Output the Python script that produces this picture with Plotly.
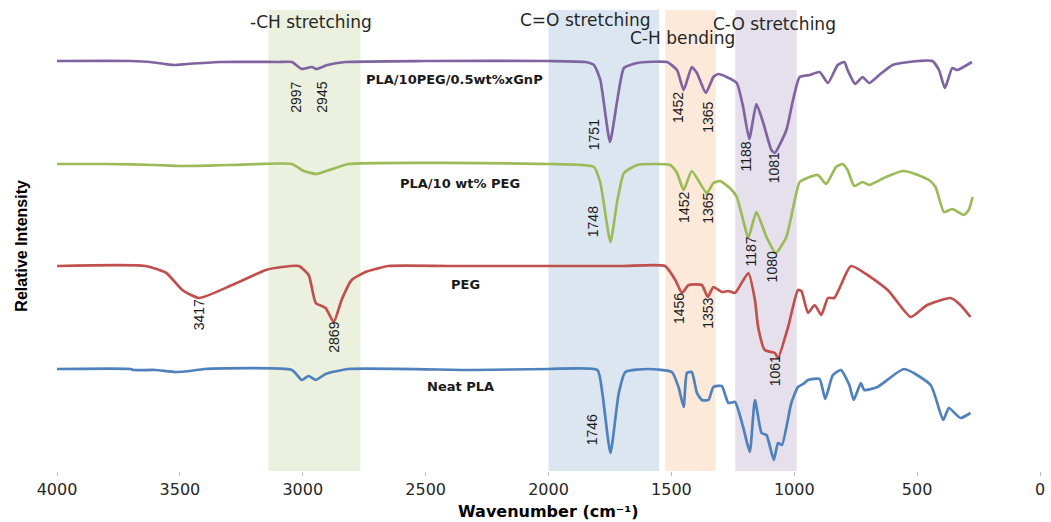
import plotly.graph_objects as go

# ---------------- data (wavenumber cm-1, relative intensity a.u.) ----------------
gnp_wn = [4000, 3700, 3620, 3560, 3520, 3470, 3340, 3100, 3044, 3004, 2963, 2943, 2900, 2826, 2500, 2000,
          1850, 1815, 1789, 1750, 1720, 1693, 1639, 1518, 1477, 1450, 1417, 1396, 1360, 1329, 1309, 1275,
          1234, 1208, 1183, 1154, 1126, 1093, 1079, 1032, 1005, 978, 937, 897, 863, 823, 796, 783, 752,
          722, 695, 654, 600, 533, 438, 411, 387, 357, 337, 277]
gnp_i = [41.0, 41.0, 40.9, 40.7, 40.6, 40.7, 40.9, 40.9, 40.9, 40.2, 40.4, 40.2, 40.6, 40.9, 41.0, 41.0,
         40.9, 40.6, 39.1, 32.9, 37.1, 40.3, 40.8, 40.9, 40.1, 38.1, 40.4, 39.8, 37.8, 39.4, 39.7, 39.4,
         38.8, 36.4, 33.2, 36.7, 34.8, 32.1, 31.8, 34.1, 37.1, 39.4, 39.6, 39.9, 38.8, 40.6, 40.9, 40.1, 38.7,
         39.4, 38.8, 39.6, 40.6, 40.9, 41.0, 40.1, 38.3, 40.3, 40.1, 40.9]

peg10_wn = [4000, 3800, 3600, 3500, 3300, 3044, 2996, 2943, 2880, 2814, 2000, 1815, 1789, 1748, 1720, 1693,
            1639, 1505, 1477, 1450, 1417, 1356, 1329, 1302, 1262, 1234, 1208, 1187, 1154, 1113, 1075, 1032,
            998, 978, 937, 904, 870, 830, 803, 783, 756, 722, 695, 627, 560, 519, 452, 425, 391, 357, 310,
            290, 274]
peg10_i = [30.7, 30.7, 30.6, 30.5, 30.6, 30.7, 30.0, 29.7, 30.2, 30.7, 30.7, 30.4, 28.8, 22.9, 27.0, 29.8,
           30.6, 30.6, 29.8, 28.1, 30.0, 27.8, 28.8, 29.0, 28.3, 27.4, 25.1, 23.3, 25.9, 23.4, 21.8, 23.4,
           27.1, 28.9, 29.4, 29.6, 28.7, 30.4, 30.7, 30.1, 28.5, 28.9, 28.6, 29.4, 30.0, 29.8, 29.1, 28.4,
           25.9, 26.2, 25.6, 26.1, 27.4]

peg_wn = [4000, 3640, 3555, 3490, 3421, 3287, 3150, 3085, 3016, 2976, 2947, 2907, 2874, 2842, 2801, 2745,
          2704, 2652, 2400, 2000, 1700, 1526, 1484, 1457, 1430, 1376, 1352, 1329, 1295, 1268, 1241, 1187,
          1160, 1147, 1120, 1079, 1066, 1025, 985, 971, 944, 917, 890, 863, 837, 810, 769, 620, 526, 459,
          364, 324, 283]
peg_i = [20.5, 20.5, 19.8, 18.1, 17.3, 18.6, 20.1, 20.4, 20.5, 19.6, 16.8, 16.3, 14.9, 17.1, 19.1, 19.9,
         20.2, 20.5, 20.5, 20.5, 20.5, 20.5, 19.1, 17.8, 18.6, 18.6, 17.4, 18.4, 17.9, 18.0, 17.8, 19.8,
         17.1, 14.4, 12.1, 11.8, 11.3, 14.4, 18.1, 18.0, 15.8, 16.6, 15.6, 17.3, 17.3, 18.6, 20.5, 18.1,
         15.4, 16.6, 17.3, 16.6, 15.4]

pla_wn = [4000, 3700, 3690, 3600, 3520, 3460, 3400, 3044, 3004, 2976, 2947, 2907, 2814, 2300, 2000, 1801,
          1781, 1748, 1714, 1687, 1592, 1498, 1471, 1450, 1437, 1417, 1396, 1376, 1349, 1329, 1295, 1268,
          1241, 1208, 1181, 1160, 1133, 1113, 1083, 1066, 1050, 1012, 985, 964, 944, 897, 874, 843, 810,
          776, 758, 729, 715, 661, 553, 445, 394, 371, 324, 283]
pla_i = [10.2, 10.2, 10.1, 10.1, 9.9, 10.0, 10.2, 10.1, 9.1, 9.5, 9.1, 9.7, 10.2, 10.1, 10.2, 10.1,
         7.8, 1.8, 7.8, 9.9, 10.2, 9.9, 8.4, 6.4, 9.8, 9.9, 7.8, 7.1, 7.1, 8.4, 8.5, 6.8,
         6.9, 4.4, 1.9, 7.1, 3.8, 3.6, 1.1, 2.8, 2.6, 6.8, 8.4, 8.7, 9.1, 9.2, 7.2, 9.6, 10.1,
         8.6, 7.1, 8.8, 8.1, 8.4, 10.2, 8.6, 5.1, 6.3, 5.3, 5.8]

series_names = ["PLA/10PEG/0.5wt%xGnP", "PLA/10 wt% PEG", "PEG", "Neat PLA"]
series_colors = ["#8064A2", "#9BBB59", "#C0504D", "#4F81BD"]

# shaded band regions (wavenumber from, to)
band_names = ["-CH stretching", "C=O stretching", "C-H bending", "C-O stretching"]
band_from = [3140, 2000, 1525, 1240]
band_to = [2765, 1550, 1320, 990]
band_colors = ["rgba(235,241,222,1)", "rgba(220,230,241,1)", "rgba(253,233,217,1)", "rgba(229,224,236,1)"]
band_label_x = [2968, 1850, 1453, 1081]
band_label_y = [44.9, 45.1, 43.3, 44.7]

# peak labels: (text, wavenumber, label y)
peak_text = ["2997", "2945", "1751", "1452", "1365", "1188", "1081",
             "1748", "1452", "1365", "1187", "1080",
             "3417", "2869", "1456", "1353", "1061",
             "1746"]
peak_x = [3028, 2923, 1814, 1473, 1352, 1198, 1081,
          1818, 1449, 1352, 1174, 1089,
          3421, 2874, 1469, 1352, 1077,
          1822]
peak_y = [37.4, 37.4, 33.6, 36.3, 35.4, 31.4, 30.3,
          24.9, 26.4, 26.3, 22.0, 20.4,
          15.6, 13.4, 16.3, 15.8, 10.0,
          4.1]

# sample name labels
name_x = [2384, 2360, 2336, 2360]
name_y = [39.2, 28.8, 18.7, 8.5]

x_ticks = [4000, 3500, 3000, 2500, 2000, 1500, 1000, 500, 0]

fig = go.Figure()

for f, t, c in zip(band_from, band_to, band_colors):
    fig.add_shape(type="rect", xref="x", yref="paper", x0=f, x1=t, y0=0, y1=1,
                  fillcolor=c, line=dict(width=0), layer="below")

all_wn = [gnp_wn, peg10_wn, peg_wn, pla_wn]
all_i = [gnp_i, peg10_i, peg_i, pla_i]
for wn, inten, name, col in zip(all_wn, all_i, series_names, series_colors):
    fig.add_trace(go.Scatter(x=wn, y=inten, mode="lines", name=name,
                             line=dict(color=col, width=2.7, shape="spline", smoothing=0.5),
                             showlegend=False))

for txt, x, y in zip(band_names, band_label_x, band_label_y):
    fig.add_annotation(x=x, y=y, text=txt, showarrow=False, xanchor="center", yanchor="middle",
                       font=dict(family="DejaVu Sans, sans-serif", size=17, color="#262626"))

for txt, x, y in zip(peak_text, peak_x, peak_y):
    fig.add_annotation(x=x, y=y, text=txt, showarrow=False, textangle=-90,
                       xanchor="center", yanchor="middle",
                       font=dict(family="Liberation Sans Narrow, Arial Narrow, Liberation Sans, sans-serif",
                                 size=14, color="#1a1a1a"))

for txt, x, y in zip(series_names, name_x, name_y):
    fig.add_annotation(x=x, y=y, text="<b>" + txt + "</b>", showarrow=False,
                       xanchor="center", yanchor="middle",
                       font=dict(family="DejaVu Sans, sans-serif", size=13, color="#1a1a1a"))

fig.add_annotation(xref="paper", yref="paper", x=-0.037, y=0.488, text="<b>Relative Intensity</b>",
                   textangle=-90, showarrow=False, xanchor="center", yanchor="middle",
                   font=dict(family="Liberation Sans Narrow, Arial Narrow, Liberation Sans, sans-serif",
                             size=16, color="#000000"))
fig.add_annotation(xref="paper", yref="paper", x=0.5, y=-0.088, text="<b>Wavenumber (cm⁻¹)</b>",
                   showarrow=False, xanchor="center", yanchor="middle",
                   font=dict(family="DejaVu Sans, sans-serif", size=16, color="#000000"))

fig.update_xaxes(range=[4000, 0], tickvals=x_ticks, ticktext=[str(v) for v in x_ticks],
                 showgrid=False, zeroline=False, showline=False,
                 ticks="outside", ticklen=4, tickcolor="#bfbfbf", tickwidth=1,
                 tickfont=dict(family="DejaVu Sans, sans-serif", size=16, color="#262626"))
fig.update_yaxes(range=[0, 46.1], showgrid=False, zeroline=False, showline=False,
                 showticklabels=False, ticks="")

fig.update_layout(width=1051, height=522, margin=dict(l=57, r=6, t=10, b=51),
                  paper_bgcolor="white", plot_bgcolor="white")

fig.write_html("out.html", config={"displayModeBar": False},
               post_script="document.body.style.margin='0px';")
